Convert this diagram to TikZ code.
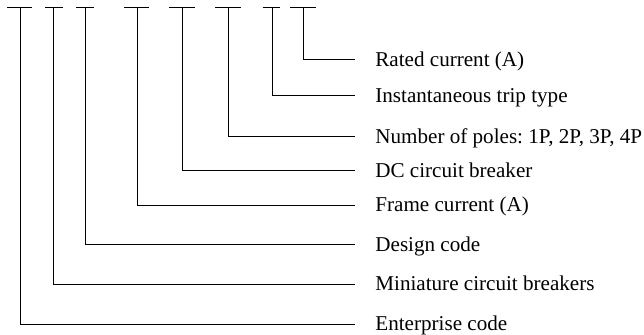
\documentclass[tikz,border=0pt]{standalone}
\usepackage{fontspec}
\setmainfont{Liberation Serif}
\frenchspacing
\begin{document}
\begin{tikzpicture}[x=0.5pt,y=-0.5pt,
  codeline/.style={draw=black,line width=0.5pt},
  lbl/.style={anchor=west,inner sep=0pt,text height=0.66em,text depth=0pt,font=\fontsize{10.55}{12}\selectfont},
  conn/.style={codeline,shorten >=10pt}]
\useasboundingbox (0,0) rectangle (644,335);
% top bars and their stems
\foreach \n/\a/\b/\v in {1/7.3/32/20, 2/45/62.7/53.3, 3/76/94/85.7, 4/124/149/137.3,
  5/169/195/182.7, 6/215/240.7/228.3, 7/262.7/280/272.7, 8/290/316/303.3}{
  \coordinate (bl\n) at (\a,8);
  \coordinate (br\n) at (\b,8);
  \coordinate (v\n) at (\v,8);
  \draw[codeline] (bl\n) -- (br\n);
}
% labels
\node[lbl] (t8) at (375,60) {Rated current (A)};
\node[lbl] (t7) at (375,96) {Instantaneous trip type};
\node[lbl] (t6) at (375,136.7) {Number of poles: 1P, 2P, 3P, 4P};
\node[lbl] (t5) at (375,171) {DC circuit breaker};
\node[lbl] (t4) at (375,205.3) {Frame current (A)};
\node[lbl] (t3) at (375,244.7) {Design code};
\node[lbl] (t2) at (375,284.3) {Miniature circuit breakers};
\node[lbl] (t1) at (375,324.3) {Enterprise code};
% connectors
\foreach \n in {1,...,8}{
  \draw[conn] (v\n) |- (t\n.west);
}
\end{tikzpicture}
\end{document}
